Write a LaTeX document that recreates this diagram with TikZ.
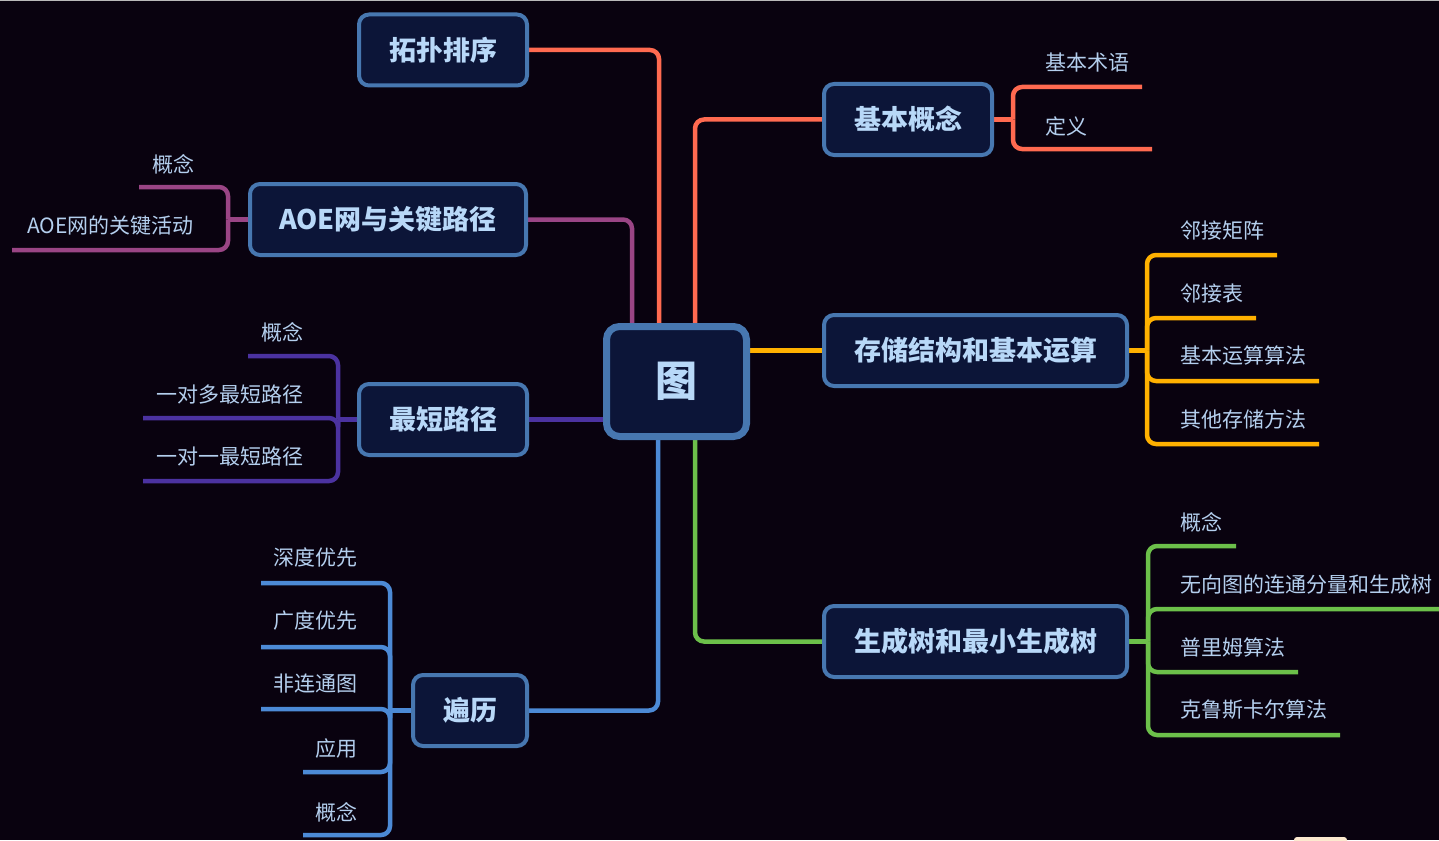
\documentclass[tikz,border=0pt]{standalone}
\usepackage{fontspec}
\setmainfont{Noto Sans CJK SC}
\usetikzlibrary{backgrounds}
\pgfdeclarelayer{bg}
\pgfsetlayers{bg,background,main}
\definecolor{bgc}{HTML}{09020F}
\definecolor{nodef}{HTML}{0C1538}
\definecolor{nodeb}{HTML}{4777B0}
\definecolor{nodet}{HTML}{B8D8F8}
\definecolor{leaft}{HTML}{B4CFEE}
\definecolor{corange}{HTML}{FF6A50}
\definecolor{cmagenta}{HTML}{9A4585}
\definecolor{cpurple}{HTML}{4B32A0}
\definecolor{cblue}{HTML}{4C8AD6}
\definecolor{cyellow}{HTML}{FFB100}
\definecolor{cgreen}{HTML}{6CC04A}
\definecolor{beige}{HTML}{FCE9CF}
\begin{document}
\begin{tikzpicture}[x=1pt,y=-1pt,
  mainbox/.style={draw=nodeb, fill=nodef, line width=4pt, rounded corners=10pt, text=nodet,
    font=\fontsize{27}{30}\selectfont\bfseries, inner sep=0pt, minimum height=71pt},
  rootbox/.style={draw=nodeb, fill=nodef, line width=7pt, rounded corners=13pt, text=nodet,
    font=\fontsize{42}{46}\selectfont\bfseries, inner sep=0pt, minimum width=140pt, minimum height=110pt},
  leafw/.style={text=leaft, font=\fontsize{21}{24}\selectfont, inner sep=0pt, anchor=west},
  leafe/.style={text=leaft, font=\fontsize{21}{24}\selectfont, inner sep=0pt, anchor=east},
  conn/.style={line width=4.5pt, rounded corners=9pt}]
\useasboundingbox (0,0) rectangle (1439,840);
\begin{pgfonlayer}{bg}
  \fill[bgc] (0,0) rectangle (1439,840);
  \fill[gray!55] (0,0) rectangle (1439,1);
  \fill[beige, rounded corners=3pt] (1294,846) rectangle (1347,837);
\end{pgfonlayer}

% root
\node[rootbox] (c) at (676.5,381.5) {图};

% main topics
\node[mainbox, minimum width=168pt] (tp) at (443,50) {拓扑排序};
\node[mainbox, minimum width=276pt] (aoe) at (388,219.5) {AOE网与关键路径};
\node[mainbox, minimum width=168pt] (sp) at (443,419.5) {最短路径};
\node[mainbox, minimum width=114pt] (tr) at (470,710.5) {遍历};
\node[mainbox, minimum width=168pt] (jb) at (908,119.5) {基本概念};
\node[mainbox, minimum width=303pt] (cc) at (975.5,350.5) {存储结构和基本运算};
\node[mainbox, minimum width=303pt] (sc) at (975.5,641.5) {生成树和最小生成树};

% leaf texts
\node[leafw] (jb1) at (1045,63) {基本术语};
\node[leafw] (jb2) at (1045,126) {定义};
\node[leafw] (cc1) at (1180,231) {邻接矩阵};
\node[leafw] (cc2) at (1180,294) {邻接表};
\node[leafw] (cc3) at (1180,356) {基本运算算法};
\node[leafw] (cc4) at (1180,419) {其他存储方法};
\node[leafw] (sc1) at (1180,522) {概念};
\node[leafw] (sc2) at (1180,585) {无向图的连通分量和生成树};
\node[leafw] (sc3) at (1180,647) {普里姆算法};
\node[leafw] (sc4) at (1180,710) {克鲁斯卡尔算法};
\node[leafe] (aoe1) at (195,164) {概念};
\node[leafe] (aoe2) at (194,226) {AOE网的关键活动};
\node[leafe] (sp1) at (304,332) {概念};
\node[leafe] (sp2) at (304,395) {一对多最短路径};
\node[leafe] (sp3) at (304,457) {一对一最短路径};
\node[leafe] (tr1) at (358,558) {深度优先};
\node[leafe] (tr2) at (358,621) {广度优先};
\node[leafe] (tr3) at (358,684) {非连通图};
\node[leafe] (tr4) at (358,748) {应用};
\node[leafe] (tr5) at (358,812) {概念};

% junctions
\coordinate (jjb) at ([xshift=19pt]jb.east);
\coordinate (jcc) at ([xshift=18pt]cc.east);
\coordinate (jsc) at ([xshift=19pt]sc.east);
\coordinate (jaoe) at ([xshift=-20pt]aoe.west);
\coordinate (jsp) at ([xshift=-19pt]sp.west);
\coordinate (jtr) at ([xshift=-21pt]tr.west);

% leaf line ends
\coordinate (ejb1) at (1142,87);
\coordinate (ejb2) at (1152,149);
\coordinate (ecc1) at (1277,255);
\coordinate (ecc2) at (1256,318);
\coordinate (ecc3) at (1319,381);
\coordinate (ecc4) at (1319,444);
\coordinate (esc1) at (1236,546);
\coordinate (esc2) at (1445,609);
\coordinate (esc3) at (1298,672);
\coordinate (esc4) at (1340,735);
\coordinate (eaoe1) at (139,187);
\coordinate (eaoe2) at (12,250);
\coordinate (esp1) at (248,356);
\coordinate (esp2) at (143,418);
\coordinate (esp3) at (143,481);
\coordinate (etr1) at (261,583);
\coordinate (etr2) at (261,647);
\coordinate (etr3) at (261,709);
\coordinate (etr4) at (303,772);
\coordinate (etr5) at (303,835);

\begin{pgfonlayer}{background}
  % root to main topics
  \draw[conn, corange] (tp.east) -| ([xshift=-17.5pt]c.north);
  \draw[conn, cmagenta] (aoe.east) -| ([xshift=-44.5pt]c.north);
  \draw[conn, cpurple] (sp.east) -- (c.west |- sp.east);
  \draw[conn, cblue] (tr.east) -| ([xshift=-18.5pt]c.south);
  \draw[conn, corange] (jb.west) -| ([xshift=18.5pt]c.north);
  \draw[conn, cyellow] (c.east |- cc.west) -- (cc.west);
  \draw[conn, cgreen] ([xshift=18.5pt]c.south) |- (sc.west);
  % stubs
  \draw[conn, corange] (jb.east) -- (jjb);
  \draw[conn, cyellow] (cc.east) -- (jcc);
  \draw[conn, cgreen] (sc.east) -- (jsc);
  \draw[conn, cmagenta] (aoe.west) -- (jaoe);
  \draw[conn, cpurple] (sp.west) -- (jsp);
  \draw[conn, cblue] (tr.west) -- (jtr);
  % leaves
  \foreach \e in {ejb1,ejb2} \draw[conn, corange] (jjb) |- (\e);
  \foreach \e in {ecc1,ecc2,ecc3,ecc4} \draw[conn, cyellow] (jcc) |- (\e);
  \foreach \e in {esc1,esc2,esc3,esc4} \draw[conn, cgreen] (jsc) |- (\e);
  \foreach \e in {eaoe1,eaoe2} \draw[conn, cmagenta] (jaoe) |- (\e);
  \foreach \e in {esp1,esp2,esp3} \draw[conn, cpurple] (jsp) |- (\e);
  \foreach \e in {etr1,etr2,etr3,etr4,etr5} \draw[conn, cblue] (jtr) |- (\e);
\end{pgfonlayer}
\end{tikzpicture}
\end{document}
